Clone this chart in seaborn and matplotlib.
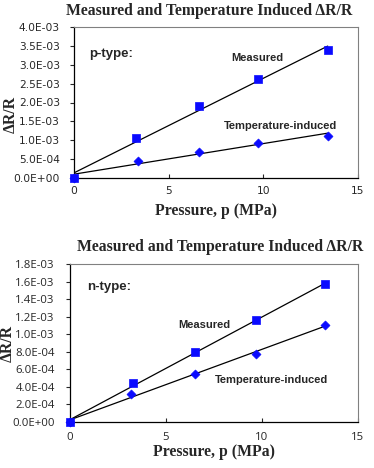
import numpy as np
import pandas as pd
import matplotlib
matplotlib.use('Agg')
import matplotlib.pyplot as plt
import seaborn as sns
from matplotlib.ticker import FuncFormatter

# p-type data
p_meas_x = [0.0, 3.3, 6.6, 9.7, 13.4]
p_meas_y = [0.0, 1.05e-3, 1.90e-3, 2.62e-3, 3.38e-3]
p_temp_x = [0.0, 3.4, 6.6, 9.7, 13.4]
p_temp_y = [0.0, 4.5e-4, 7.0e-4, 9.4e-4, 1.10e-3]

# n-type data
n_meas_x = [0.0, 3.3, 6.5, 9.7, 13.3]
n_meas_y = [0.0, 4.4e-4, 8.0e-4, 1.16e-3, 1.57e-3]
n_temp_x = [0.0, 3.2, 6.5, 9.7, 13.3]
n_temp_y = [0.0, 3.2e-4, 5.5e-4, 7.8e-4, 1.10e-3]

title = 'Measured and Temperature Induced \u0394R/R'
blue = '#0a0aff'

sns.set_style('white')
plt.rcParams['font.family'] = ['Liberation Sans', 'DejaVu Sans']

W, H = 374, 468
fig = plt.figure(figsize=(3.74, 4.68), dpi=100)
ax1 = fig.add_axes([74/W, 1-178/H, (358-74)/W, (178-27)/H])
ax2 = fig.add_axes([70/W, 1-422/H, (358-70)/W, (422-264)/H])


def draw(ax, mx, my, tx, ty, ymax, ystep, label, lab_pos, xpad, xlpad,
         ypad, ylab_xy, title_xy, tick_font, tick_size):
    df_m = pd.DataFrame({'p': mx, 'r': my})
    df_t = pd.DataFrame({'p': tx, 'r': ty})
    # fitted trend lines like excel
    for df in (df_m, df_t):
        k, b = np.polyfit(df['p'], df['r'], 1)
        xs = np.array([0, df['p'].max()])
        ax.plot(xs, k * xs + b, color='black', lw=0.9, zorder=2)
    sns.scatterplot(data=df_t, x='p', y='r', ax=ax, marker='D', s=22,
                    color=blue, edgecolor=blue, zorder=3, clip_on=False)
    sns.scatterplot(data=df_m, x='p', y='r', ax=ax, marker='s', s=38,
                    color=blue, edgecolor=blue, zorder=4, clip_on=False)
    ax.set_xlim(0, 15)
    ax.set_ylim(0, ymax)
    ax.set_xticks([0, 5, 10, 15])
    ax.set_yticks(np.arange(0, ymax + ystep / 2, ystep))
    ax.yaxis.set_major_formatter(FuncFormatter(lambda v, _: f'{v:.1E}'))
    ax.tick_params(axis='y', direction='out', length=3, left=True, pad=ypad)
    ax.tick_params(axis='x', direction='in', length=3, bottom=True, pad=xpad)
    for t in ax.get_xticklabels() + ax.get_yticklabels():
        t.set_family(tick_font)
        t.set_fontsize(tick_size)
    for s in ('top', 'right'):
        ax.spines[s].set_color('#808080')
        ax.spines[s].set_linewidth(0.8)
    for s in ('left', 'bottom'):
        ax.spines[s].set_color('black')
        ax.spines[s].set_linewidth(0.9)
    fig.text(title_xy[0] / W, 1 - title_xy[1] / H, title,
             family='Liberation Serif', fontweight='bold', fontsize=11.3,
             ha='center', va='center')
    ax.set_xlabel('Pressure, p (MPa)', family='Liberation Serif',
                  fontweight='bold', fontsize=11.3, labelpad=xlpad)
    ax.set_ylabel('\u0394R/R', family='Liberation Serif', fontweight='bold',
                  fontsize=11.3, va='center', ha='center')
    ax.yaxis.set_label_coords(*ylab_xy)
    (tx0, ty0), (mx0, my0), (ttx, tty) = lab_pos
    ax.text(tx0, ty0, label, fontsize=9.5, fontweight='bold', va='center')
    ax.text(mx0, my0, 'Measured', fontsize=8, fontweight='bold',
            ha='center', va='center')
    ax.text(ttx, tty, 'Temperature-induced', fontsize=8, fontweight='bold',
            ha='center', va='center')


draw(ax1, p_meas_x, p_meas_y, p_temp_x, p_temp_y, 4.0e-3, 5e-4, 'p-type:',
     [(0.8, 3.28e-3), (9.7, 3.18e-3), (10.9, 1.39e-3)],
     6, 5, 7, (-0.222, 0.42), (209, 11), 'DejaVu Sans', 7.7)
draw(ax2, n_meas_x, n_meas_y, n_temp_x, n_temp_y, 1.8e-3, 2e-4, 'n-type:',
     [(0.9, 1.54e-3), (7.0, 1.105e-3), (10.5, 0.48e-3)],
     7, 1, 8, (-0.215, 0.5), (220, 247), 'Open Sans', 8.2)

fig.savefig('out.png', dpi=100)
